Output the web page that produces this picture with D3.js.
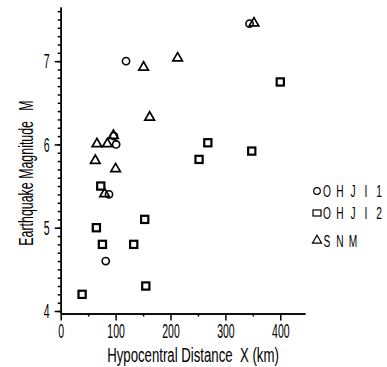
<!DOCTYPE html>
<html>
<head>
<meta charset="utf-8">
<script src="https://cdn.jsdelivr.net/npm/d3@7"></script>
<style>
  body { margin: 0; background: #fff; }
  text { font-family: "Liberation Sans", "DejaVu Sans", sans-serif; fill: #000; }
</style>
</head>
<body>
<div id="chart"></div>
<script>
// data: [distance km, magnitude M]
var ohji1 = [[119, 7.0], [344, 7.45], [82, 4.6], [88, 5.4], [101, 6.0], [97, 6.1]];
var ohji2 = [[39, 4.2], [65, 5.0], [76, 4.8], [73, 5.5], [133, 4.8], [153, 5.1],
             [155, 4.3], [252, 5.82], [268, 6.02], [348, 5.92], [400, 6.75]];
var snm = [[352, 7.45], [213, 7.03], [151, 6.92], [162, 6.32], [66, 6.0], [85, 6.0],
           [96, 6.1], [63, 5.8], [100, 5.7], [80, 5.4]];
var xTicks = [0, 100, 200, 300, 400];
var yTicks = [4, 5, 6, 7];
var seriesNames = ["OHJI1", "OHJI2", "SNM"];

function start(){
    var width = 387, height = 367;
    var svg = d3.select("#chart").append("svg")
        .attr("width", width)
        .attr("height", height);

    var xScale = d3.scaleLinear().domain([0, 445]).range([60.7, 305]);
    var yScale = d3.scaleLinear().domain([3.97, 7.65]).range([313.5, 7]);
    var sx = 0.5;

    // minor ticks
    var xMinor = d3.range(50, 445, 100);
    var yMinor = d3.range(40, 77).map(function(d){ return d / 10; });

    svg.append("g")
        .attr("transform", "translate(0,313.5)")
        .call(d3.axisBottom(xScale).tickValues(xMinor).tickSize(3).tickSizeOuter(0).tickFormat(""));
    var gx = svg.append("g")
        .attr("class", "x_axis")
        .attr("transform", "translate(0,313.5)")
        .call(d3.axisBottom(xScale).tickValues(xTicks).tickSize(7).tickSizeOuter(0).tickFormat(d3.format("d")));
    gx.selectAll("text")
        .attr("transform", "scale(" + sx + ",1)")
        .attr("y", 9)
        .attr("dy", "0.72em")
        .style("font-size", "21px");

    svg.append("g")
        .attr("transform", "translate(60.7,0)")
        .call(d3.axisLeft(yScale).tickValues(yMinor).tickSize(3).tickSizeOuter(0).tickFormat(""));
    var gy = svg.append("g")
        .attr("class", "y_axis")
        .attr("transform", "translate(60.7,0)")
        .call(d3.axisLeft(yScale).tickValues(yTicks).tickSize(6).tickSizeOuter(0).tickFormat(d3.format("d")));
    gy.selectAll("text")
        .attr("transform", "scale(" + sx + ",1)")
        .attr("x", -14 / sx)
        .attr("text-anchor", "middle")
        .style("font-size", "21px");

    svg.selectAll(".domain, .tick line").attr("stroke", "#000").attr("stroke-width", 1.5);

    // markers
    svg.selectAll("circle.p1")
        .data(ohji1)
        .enter()
        .append("circle")
        .attr("class", "p1")
        .attr("cx", function(d){ return xScale(d[0]); })
        .attr("cy", function(d){ return yScale(d[1]); })
        .attr("r", 3.6)
        .attr("fill", "none")
        .attr("stroke", "#000")
        .attr("stroke-width", 1.6);

    svg.selectAll("rect.p2")
        .data(ohji2)
        .enter()
        .append("rect")
        .attr("class", "p2")
        .attr("x", function(d){ return xScale(d[0]) - 3.6; })
        .attr("y", function(d){ return yScale(d[1]) - 3.6; })
        .attr("width", 7.2)
        .attr("height", 7.2)
        .attr("fill", "none")
        .attr("stroke", "#000")
        .attr("stroke-width", 2.2);

    var tri = d3.symbol().type(d3.symbolTriangle).size(40);
    svg.selectAll("path.p3")
        .data(snm)
        .enter()
        .append("path")
        .attr("class", "p3")
        .attr("d", tri)
        .attr("transform", function(d){
            return "translate(" + xScale(d[0]) + "," + (yScale(d[1]) - 0.5) + ")";
        })
        .attr("fill", "none")
        .attr("stroke", "#000")
        .attr("stroke-width", 1.7);

    // axis titles
    svg.append("text")
        .attr("transform", "translate(193,362) scale(0.66,1)")
        .attr("text-anchor", "middle")
        .style("font-size", "20px")
        .style("white-space", "pre")
        .text("Hypocentral Distance  X (km)");

    svg.append("text")
        .attr("transform", "translate(33,173) rotate(-90) scale(0.62,1)")
        .attr("text-anchor", "middle")
        .style("font-size", "20px")
        .style("white-space", "pre")
        .text("Earthquake Magnitude   M");

    // legend
    var legendY = [191, 213, 241];
    var lg = svg.append("g");
    lg.append("circle").attr("cx", 317).attr("cy", legendY[0]).attr("r", 3.3)
        .attr("fill", "none").attr("stroke", "#000").attr("stroke-width", 1.2);
    lg.append("rect").attr("x", 313).attr("y", legendY[1] - 3).attr("width", 8).attr("height", 6)
        .attr("fill", "none").attr("stroke", "#000").attr("stroke-width", 1.2);
    lg.append("path").attr("d", d3.symbol().type(d3.symbolTriangle).size(36))
        .attr("transform", "translate(317," + (legendY[2] - 0.5) + ")")
        .attr("fill", "none").attr("stroke", "#000").attr("stroke-width", 1.2);

    // wide letter pitch, one glyph per text
    seriesNames.forEach(function(name, i){
        name.split("").forEach(function(ch, j){
            lg.append("text")
                .attr("transform", "translate(" + (327 + 13 * j) + "," + (legendY[i] + 6) + ") scale(0.6,1)")
                .attr("text-anchor", "middle")
                .style("font-size", "17px")
                .text(ch);
        });
    });
}

start();
</script>
</body>
</html>
